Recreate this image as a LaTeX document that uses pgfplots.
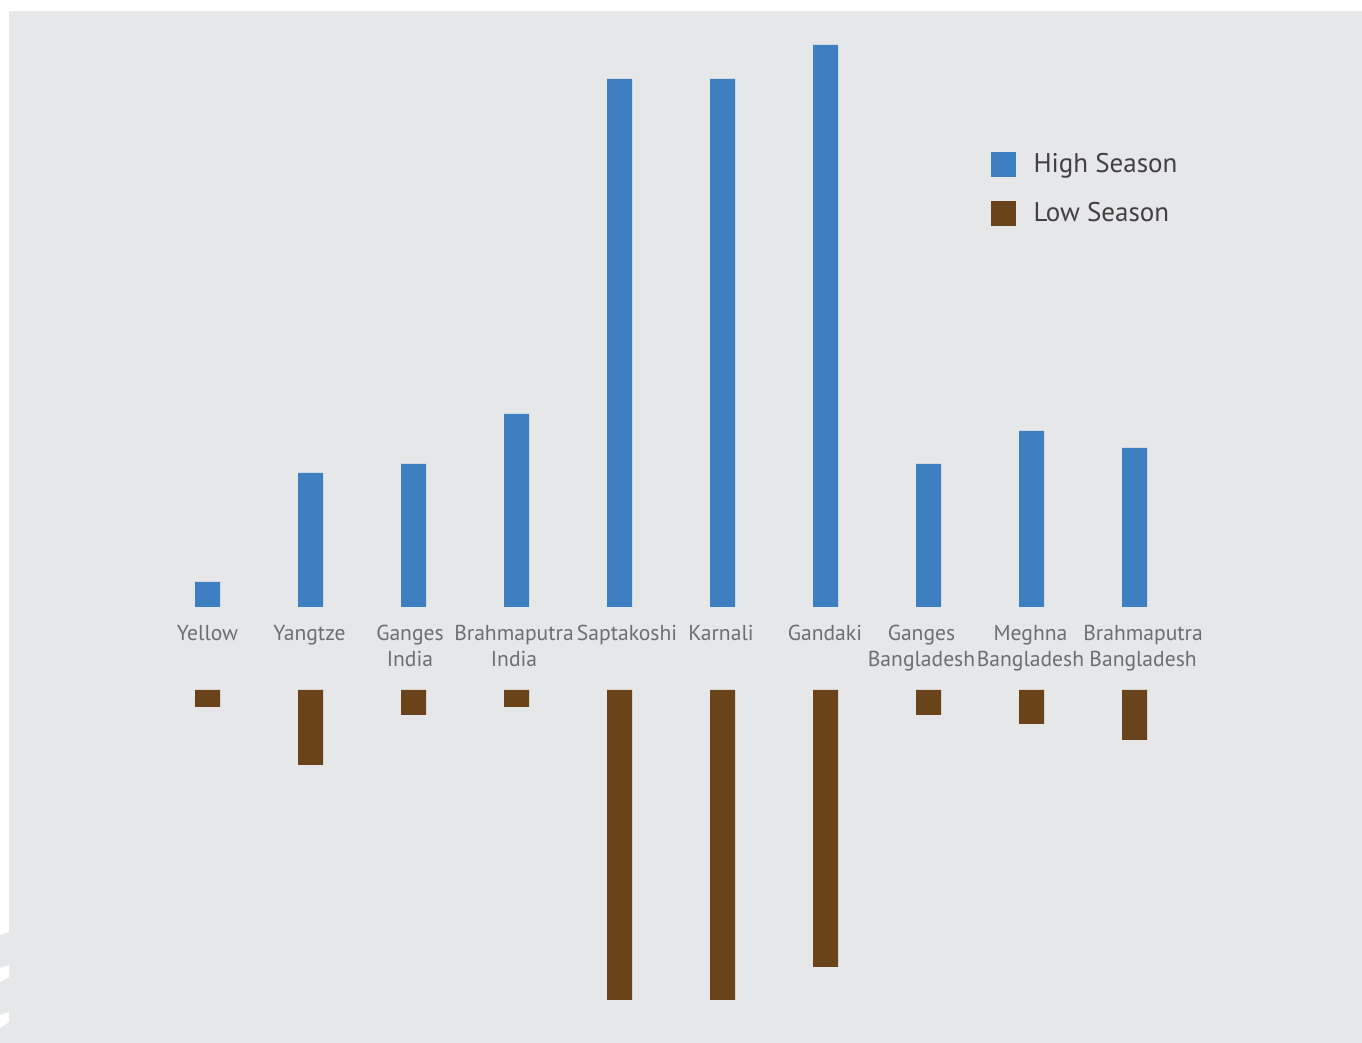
\documentclass[border=0pt]{standalone}
\usepackage{pgfplots}
\pgfplotsset{compat=1.18}
\usepackage{fontspec}
\setmainfont{PT Sans}
\definecolor{bggrey}{HTML}{E6E7E8}
\definecolor{hiblue}{HTML}{3D7FC1}
\definecolor{lobrown}{HTML}{6B431B}
\definecolor{labgrey}{HTML}{6D6E71}
\definecolor{leggrey}{HTML}{414042}
\begin{document}
\begin{tikzpicture}
% background (1 px = 0.5pt)
\fill[white] (0,0) rectangle (681pt,521.5pt);
\fill[bggrey] (4.5pt,0) rectangle (681pt,516pt);
\fill[bggrey] (0,0) -- (0,54pt) -- (4.5pt,55.5pt) -- (4.5pt,0) -- cycle;
\fill[white] (0,30.5pt) -- (0,37.5pt) -- (4.5pt,39pt) -- (4.5pt,33pt) -- cycle;
\fill[white] (0,7.5pt) -- (0,14pt) -- (4.5pt,15.5pt) -- (4.5pt,10.5pt) -- cycle;

\begin{axis}[
  at={(78pt,218pt)}, anchor=south west,
  scale only axis, width=515pt, height=285pt,
  xmin=-0.5, xmax=9.5, ymin=0, ymax=570,
  ybar, bar width=12.5pt, bar shift=0pt,
  axis line style={draw=none}, major tick length=0pt,
  ytick=\empty, xtick={0,0.99,1.966,2.976,4.073,4.985,5.995,6.932,7.99,9.083},
  xticklabels={Yellow,Yangtze,{Ganges\\India},{Brahmaputra\\India},Saptakoshi,Karnali,Gandaki,{Ganges\\Bangladesh},{Meghna\\Bangladesh},{Brahmaputra\\Bangladesh}},
  xticklabel style={align=center, font=\fontsize{10.8}{13}\selectfont, text=labgrey, anchor=north, inner sep=0pt, yshift=-9pt},
  legend style={draw=none, fill=none, at={(0.804,0.811)}, anchor=north west,
    font=\fontsize{13.5}{16}\selectfont, text=leggrey, row sep=9.3pt,
    /tikz/every odd column/.append style={column sep=7pt}},
  legend cell align=left,
  legend image code/.code={\fill[#1] (0pt,-6.25pt) rectangle (12.5pt,6.25pt);},
]
\addplot[fill=hiblue, draw=none] coordinates {(0,25) (1,134) (2,143) (3,193) (4,528) (5,528) (6,562) (7,143) (8,176) (9,159)};
\addlegendentry{High Season}
\addlegendimage{fill=lobrown, draw=none}
\addlegendentry{Low Season}
\end{axis}

\begin{axis}[
  at={(78pt,176.5pt)}, anchor=north west,
  scale only axis, width=515pt, height=160pt,
  xmin=-0.5, xmax=9.5, ymin=-320, ymax=0,
  ybar, bar width=12.5pt, bar shift=0pt,
  axis line style={draw=none}, major tick length=0pt,
  ytick=\empty, xtick=\empty,
]
\addplot[fill=lobrown, draw=none] coordinates {(0,-17) (1,-75) (2,-25) (3,-17) (4,-310) (5,-310) (6,-277) (7,-25) (8,-34) (9,-50)};
\end{axis}
\end{tikzpicture}
\end{document}
